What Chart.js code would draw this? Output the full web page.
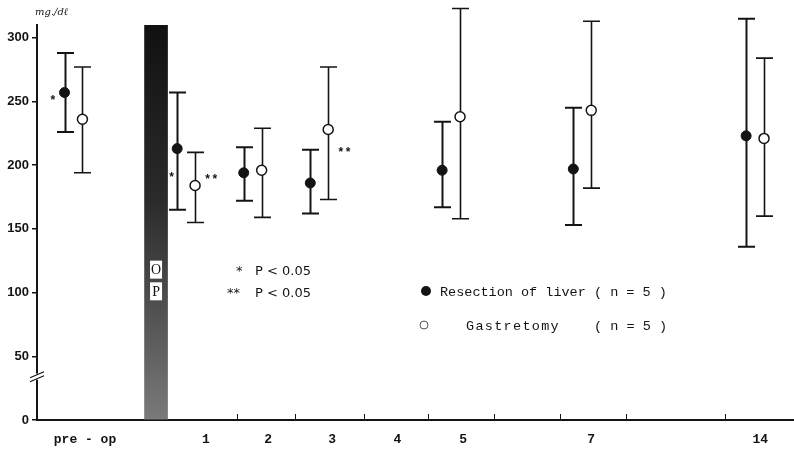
<!DOCTYPE html>
<html><head><meta charset="utf-8">
<script src="https://cdn.jsdelivr.net/npm/chart.js@4.4.0/dist/chart.umd.min.js"></script>
<style>html,body{margin:0;padding:0;background:#fff}#wrap{width:794px;height:456px}</style>
</head><body><div id="wrap"><canvas id="c" width="794" height="456"></canvas></div>
<script>
// ---------------- data ----------------
const categories  = ['pre-op','1','2','3','5','7','14'];
const xTickLabels = ['pre - op','1','2','3','4','5','7','14'];
const yTickValues = [0,50,100,150,200,250,300];
const liverMean   = [257,213,194,186,196,197,223];
const liverUpper  = [288,257,214,212,234,245,315];
const liverLower  = [226,165,172,162,167,153,136];
const gastMean    = [236,184,196,228,238,243,221];
const gastUpper   = [277,210,229,277,323,313,284];
const gastLower   = [194,155,159,173,158,182,160];
const yAxisMax    = 310;

// ---------------- layout (axis slots, not data) ----------------
const GROUP_SLOT = {'pre-op':0.57,'1':2.33,'2':3.37,'3':4.41,'5':6.47,'7':8.52,'14':11.22};
const LABEL_SLOT = [0.75,2.64,3.61,4.61,5.63,6.66,8.66,11.3];
const TICKMARK_SLOT = [3.125,4.03,5.11,6.11,7.14,8.17,9.2,10.75];
const OP_SLOT = 1.86;
const SERIES_OFFSET = {liver:-0.14, gast:0.14};
const X_MAX = 757/64;

const ink = '#141414';

const liverPts = categories.map((c,i)=>({x:GROUP_SLOT[c]+SERIES_OFFSET.liver, y:liverMean[i]}));
const gastPts  = categories.map((c,i)=>({x:GROUP_SLOT[c]+SERIES_OFFSET.gast,  y:gastMean[i]}));

const errorBars = {
  id:'errorBars',
  beforeDatasetDraw(chart,args){
    const ds = chart.data.datasets[args.index];
    if(!ds.errLow) return;
    const {ctx, scales:{x,y}} = chart;
    ctx.save(); ctx.strokeStyle=ink; ctx.lineWidth=ds.whiskerWidth; ctx.lineCap='butt';
    ds.data.forEach((p,i)=>{
      const px = Math.round(x.getPixelForValue(p.x))+0.5;
      const yt = y.getPixelForValue(ds.errHigh[i]), yb = y.getPixelForValue(ds.errLow[i]);
      ctx.beginPath();
      ctx.moveTo(px,yt); ctx.lineTo(px,yb);
      ctx.moveTo(px-8.5,yt); ctx.lineTo(px+8.5,yt);
      ctx.moveTo(px-8.5,yb); ctx.lineTo(px+8.5,yb);
      ctx.stroke();
    });
    ctx.restore();
  }
};

const decorations = {
  id:'decorations',
  afterDraw(chart){
    const {ctx, scales:{x,y}, chartArea:ca} = chart;
    ctx.save();
    // OP letters
    const bx = x.getPixelForValue(OP_SLOT);
    [['O',118],['P',101]].forEach(([t,v])=>{
      const py = y.getPixelForValue(v);
      ctx.fillStyle='#fff'; ctx.fillRect(bx-6,py-9,12,18);
      ctx.fillStyle=ink; ctx.font='14px "Liberation Serif"'; ctx.textAlign='center'; ctx.textBaseline='middle';
      ctx.fillText(t,bx,py+1);
    });
    // x tick marks (upward)
    ctx.strokeStyle=ink; ctx.lineWidth=1;
    TICKMARK_SLOT.forEach(s=>{
      const px = Math.round(x.getPixelForValue(s))+0.5;
      ctx.beginPath(); ctx.moveTo(px,ca.bottom); ctx.lineTo(px,ca.bottom-6); ctx.stroke();
    });
    // y axis break
    const yb = y.getPixelForValue(34);
    ctx.fillStyle='#fff'; ctx.fillRect(ca.left-3,yb-3,6,6);
    ctx.strokeStyle=ink; ctx.lineWidth=1.2;
    ctx.beginPath();
    ctx.moveTo(ca.left-7,yb+1); ctx.lineTo(ca.left+7,yb-5);
    ctx.moveTo(ca.left-7,yb+5); ctx.lineTo(ca.left+7,yb-1);
    ctx.stroke();
    // unit label
    ctx.fillStyle=ink; ctx.font='italic 10px "DejaVu Serif"'; ctx.textAlign='left'; ctx.textBaseline='middle';
    ctx.fillText('mg.\u2215d\u2113', 35, 12);
    // significance marks near points
    const lm = chart.getDatasetMeta(1).data, gm = chart.getDatasetMeta(2).data;
    ctx.font='bold 12px "Liberation Mono"'; ctx.textBaseline='middle';
    const star = (el,dx,dy,t,align)=>{ctx.textAlign=align; ctx.fillText(t, el.x+dx, el.y+dy);};
    star(lm[0],-8,8,'*','right');
    star(lm[1],-2,29,'*','right');
    star(gm[1],9,-6,'**','left');
    star(gm[3],9,24,'**','left');
    // legend
    ctx.font='13px "DejaVu Sans"'; ctx.textAlign='left';
    ctx.fillText('*', 236, 272); ctx.fillText('P \u003C 0.05', 255, 272);
    ctx.fillText('**', 227, 294); ctx.fillText('P \u003C 0.05', 255, 294);
    ctx.fillStyle=ink; ctx.beginPath(); ctx.arc(426,291,5,0,Math.PI*2); ctx.fill();
    ctx.font='13.5px "Liberation Mono"';
    ctx.fillText('Resection of liver ( n = 5 )', 440, 292);
    ctx.strokeStyle='#555'; ctx.lineWidth=1; ctx.beginPath(); ctx.arc(424,325,4,0,Math.PI*2); ctx.stroke();
    ctx.letterSpacing='1.3px';
    ctx.fillText('Gastretomy', 466, 326);
    ctx.letterSpacing='0px'; ctx.textAlign='right';
    ctx.fillText('( n = 5 )', 667, 326);
    ctx.restore();
  }
};

new Chart(document.getElementById('c'), {
  type:'scatter',
  data:{datasets:[
    {type:'bar', label:'OP', data:[{x:OP_SLOT,y:yAxisMax}], barThickness:23, borderWidth:0, order:3,
      backgroundColor:(c)=>{const ch=c.chart, ca=ch.chartArea; if(!ca) return '#333';
        const g=ch.ctx.createLinearGradient(0,ca.top,0,ca.bottom);
        g.addColorStop(0,'#111'); g.addColorStop(0.45,'#2b2b2b'); g.addColorStop(0.75,'#555'); g.addColorStop(1,'#7a7a7a'); return g;}},
    {label:'Resection of liver (n=5)', data:liverPts, errLow:liverLower, errHigh:liverUpper, whiskerWidth:2,
      pointRadius:5, pointHoverRadius:5, backgroundColor:ink, borderColor:ink, borderWidth:1, order:1, clip:false},
    {label:'Gastretomy (n=5)', data:gastPts, errLow:gastLower, errHigh:gastUpper, whiskerWidth:1.6,
      pointRadius:5, pointHoverRadius:5, backgroundColor:'#fff', borderColor:ink, borderWidth:1.5, order:0, clip:false}
  ]},
  options:{
    responsive:false, animation:false, events:[],
    layout:{autoPadding:false, padding:{top:25,right:0,left:0,bottom:0}},
    plugins:{legend:{display:false}, tooltip:{enabled:false}},
    scales:{
      x:{type:'linear', min:0, max:X_MAX, offset:false,
        afterBuildTicks:(s)=>{s.ticks = LABEL_SLOT.map(v=>({value:v}));},
        afterFit:(s)=>{s.height=36; s.paddingRight=0; s.paddingLeft=0;},
        grid:{display:false, drawTicks:false},
        border:{display:true, color:ink, width:2},
        ticks:{autoSkip:false, maxRotation:0, padding:12, color:ink,
          font:{family:'Liberation Mono', size:13, weight:'bold'},
          callback:(v,i)=>xTickLabels[i]}},
      y:{type:'linear', min:0, max:yAxisMax,
        afterBuildTicks:(s)=>{s.ticks = yTickValues.map(v=>({value:v}));},
        afterFit:(s)=>{s.width=37; s.paddingTop=0; s.paddingBottom=0;},
        grid:{display:true, drawOnChartArea:false, drawTicks:true, tickLength:5, color:ink, lineWidth:1.5},
        border:{display:true, color:ink, width:2},
        ticks:{padding:3, color:ink, font:{family:'Liberation Sans', size:13, weight:'bold'}}}
    }
  },
  plugins:[errorBars, decorations]
});
</script></body></html>
